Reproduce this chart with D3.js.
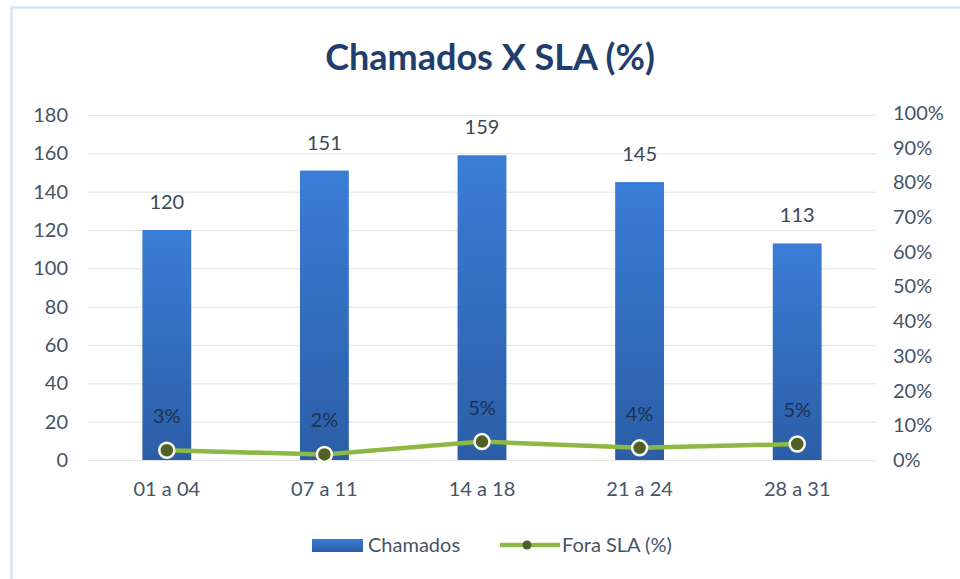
<!DOCTYPE html>
<html><head><meta charset="utf-8">
<script src="https://cdn.jsdelivr.net/npm/d3@7"></script>
<style>
body{margin:0;background:#fff;}
text{font-family:Lato,"Open Sans",sans-serif;}
</style></head>
<body><svg id="c" width="960" height="579"></svg>
<script>
const categories = ["01 a 04","07 a 11","14 a 18","21 a 24","28 a 31"];
const chamados = [120,151,159,145,113];
const foraSLA = [0.028,0.016,0.053,0.035,0.046];
const leftTicks = [0,20,40,60,80,100,120,140,160,180];
const rightTicks = [0,0.1,0.2,0.3,0.4,0.5,0.6,0.7,0.8,0.9,1];

const svg = d3.select("#c");
const m={left:88,right:876,top:115,bottom:460};

svg.append("rect").attr("x",11.5).attr("y",7.5).attr("width",960).attr("height",600)
  .attr("fill","#fff").attr("stroke","#d5e3f0").attr("stroke-width",2.5);

const defs = svg.append("defs");
const g = defs.append("linearGradient").attr("id","bg").attr("x1",0).attr("y1",0).attr("x2",0).attr("y2",1);
g.append("stop").attr("offset","0%").attr("stop-color","#3b7dd6");
g.append("stop").attr("offset","100%").attr("stop-color","#2b5ea6");

svg.append("text").attr("x",490).attr("y",70).attr("text-anchor","middle")
  .attr("font-size",36).attr("font-weight","bold").attr("fill","#1f3e6d").text("Chamados X SLA (%)");

const x = d3.scaleBand().domain(categories).range([m.left,m.right]).paddingInner(0.69).paddingOuter(0.345);
const xc = d=>x(d)+x.bandwidth()/2;
const yL = d3.scaleLinear().domain([0,180]).range([m.bottom,m.top]);
const yR = d3.scaleLinear().domain([0,1]).range([m.bottom,113]);
const tc = "#475466";

svg.append("g").selectAll("line").data(leftTicks).join("line")
  .attr("x1",m.left).attr("x2",m.right).attr("y1",d=>yL(d)+0.5).attr("y2",d=>yL(d)+0.5)
  .attr("stroke","#e3e3e3").attr("stroke-width",1);

const axL = svg.append("g").attr("transform",`translate(${m.left-20},0)`)
  .call(d3.axisLeft(yL).tickValues(leftTicks).tickSize(0).tickPadding(0));
axL.select(".domain").remove();
axL.selectAll("text").attr("font-size",20).attr("fill",tc).attr("font-family","Lato,sans-serif");

const axR = svg.append("g").attr("transform",`translate(${m.right+17},0)`)
  .call(d3.axisRight(yR).tickValues(rightTicks).tickFormat(d3.format(".0%")).tickSize(0).tickPadding(0));
axR.select(".domain").remove();
axR.selectAll("text").attr("font-size",20).attr("fill",tc).attr("font-family","Lato,sans-serif");

const axX = svg.append("g").attr("transform",`translate(0,${m.bottom+16})`)
  .call(d3.axisBottom(x).tickSize(0).tickPadding(6));
axX.select(".domain").remove();
axX.selectAll("text").attr("font-size",20).attr("fill",tc).attr("font-family","Lato,sans-serif");

svg.append("g").selectAll("rect").data(categories).join("rect")
  .attr("x",d=>x(d)).attr("width",x.bandwidth())
  .attr("y",(d,i)=>yL(chamados[i])).attr("height",(d,i)=>yL(0)-yL(chamados[i]))
  .attr("fill","url(#bg)");

svg.append("g").selectAll("text").data(categories).join("text")
  .attr("x",d=>xc(d)).attr("y",(d,i)=>yL(chamados[i])-21)
  .attr("text-anchor","middle").attr("font-size",20).attr("fill","#3e4856").text((d,i)=>chamados[i]);

const line = d3.line().x((d,i)=>xc(categories[i])).y(d=>yR(d));
svg.append("path").datum(foraSLA).attr("d",line).attr("fill","none")
  .attr("stroke","#8db843").attr("stroke-width",4.5).attr("stroke-linejoin","round");
svg.append("g").selectAll("circle").data(foraSLA).join("circle")
  .attr("cx",(d,i)=>xc(categories[i])).attr("cy",d=>yR(d)).attr("r",7.5)
  .attr("fill","#4f6127").attr("stroke","#fbfbf0").attr("stroke-width",2.5);
svg.append("g").selectAll("text").data(foraSLA).join("text")
  .attr("x",(d,i)=>xc(categories[i])).attr("y",d=>yR(d)-27)
  .attr("text-anchor","middle").attr("font-size",20).attr("fill","#1d3150").text(d=>d3.format(".0%")(d));

const lg = svg.append("g");
lg.append("rect").attr("x",312).attr("y",539).attr("width",51).attr("height",13).attr("fill","url(#bg)");
lg.append("text").attr("x",368).attr("y",552).attr("font-size",20).attr("fill",tc).text("Chamados");
lg.append("line").attr("x1",500).attr("x2",560).attr("y1",545).attr("y2",545).attr("stroke","#8db843").attr("stroke-width",4.5);
lg.append("circle").attr("cx",527).attr("cy",545).attr("r",4.5).attr("fill","#4f6127");
lg.append("text").attr("x",562).attr("y",552).attr("font-size",20).attr("fill",tc).text("Fora SLA (%)");
</script></body></html>
